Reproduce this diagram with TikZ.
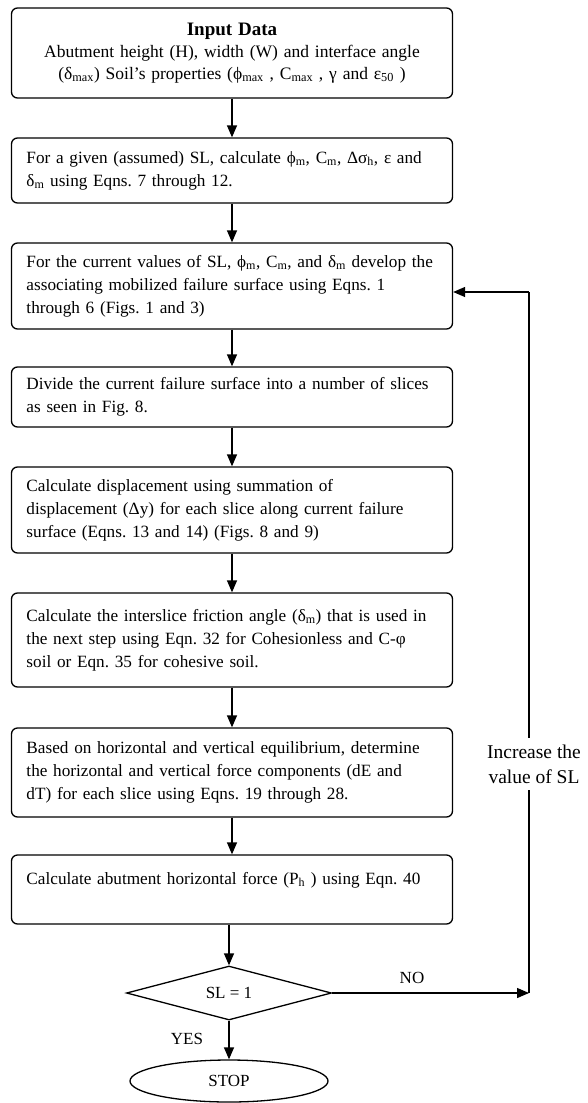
\documentclass[tikz,border=0pt]{standalone}
\usepackage{fontspec}
\setmainfont{Liberation Serif}
\usetikzlibrary{shapes.geometric, arrows.meta}
\frenchspacing

\begin{document}
\begin{tikzpicture}[x=1pt, y=-1pt, line width=1.3pt,
        stepbox/.style={draw, rounded corners=6pt, align=left, text width=411pt, inner xsep=15pt,
            font=\fontsize{17.2}{23}\selectfont},
        flow/.style={-{Triangle[length=12pt, width=10pt]}},
        lbl/.style={font=\fontsize{17}{23}\selectfont}]
        % \draw (0, 0) grid (587, 1103);
        \useasboundingbox (0, 0) rectangle (587, 1103);
        \node[stepbox, align=center, minimum height=90pt, font=\fontsize{17.5}{22}\selectfont, name=input] at (232, 53)
            {{\bfseries\fontsize{19}{22}\selectfont Input Data}\\
            Abutment height (H), width (W) and interface angle\\
            (δ\textsubscript{max}) Soil's properties (ϕ\textsubscript{max} , C\textsubscript{max} , γ and ε\textsubscript{50} )};
        \node[stepbox, minimum height=65pt, name=assume] at (232, 170.5)
            {For a given (assumed) SL, calculate ϕ\textsubscript{m}, C\textsubscript{m}, Δσ\textsubscript{h}, ε and\\
            δ\textsubscript{m} using Eqns. 7 through 12.};
        \node[stepbox, minimum height=86pt, name=surface] at (232, 286)
            {For the current values of SL, ϕ\textsubscript{m}, C\textsubscript{m}, and δ\textsubscript{m} develop the\\
            associating mobilized failure surface using Eqns. 1\\
            through 6 (Figs. 1 and 3)};
        \node[stepbox, minimum height=60pt, name=slices] at (232, 397)
            {Divide the current failure surface into a number of slices\\
            as seen in Fig. 8.};
        \node[stepbox, minimum height=86pt, name=displace] at (232, 510)
            {Calculate displacement using summation of\\
            displacement (Δy) for each slice along current failure\\
            surface (Eqns. 13 and 14) (Figs. 8 and 9)};
        \node[stepbox, minimum height=94pt, name=friction] at (232, 640)
            {Calculate the interslice friction angle (δ\textsubscript{m}) that is used in\\
            the next step using Eqn. 32 for Cohesionless and C-φ\\
            soil or Eqn. 35 for cohesive soil.};
        \node[stepbox, minimum height=89pt, name=equil] at (232, 772.5)
            {Based on horizontal and vertical equilibrium, determine\\
            the horizontal and vertical force components (dE and\\
            dT) for each slice using Eqns. 19 through 28.};
        \node[stepbox, minimum height=69pt, name=force] at (232, 889.5)
            {Calculate abutment horizontal force (P\textsubscript{h} ) using Eqn. 40\\ \mbox{}};
        \node[draw, diamond, aspect=3.8, minimum width=205pt, minimum height=54pt, inner sep=0pt, lbl, name=check] at (229, 993) {SL = 1};
        \node[draw, ellipse, minimum width=198pt, minimum height=42pt, inner sep=0pt, lbl, name=stop] at (229, 1081) {STOP};
        \node[lbl, name=no] at (412, 978) {NO};
        \node[lbl, name=yes] at (187, 1039) {YES};
        \node[align=center, inner ysep=6pt, font=\fontsize{19.5}{25}\selectfont, name=increase] at (534, 764)
            {Increase the\\ value of SL};
        \coordinate (corner) at (529, 993);
        \coordinate (back) at (529, 292);
        \draw[flow] (input) -- (assume);
        \draw[flow] (assume) -- (surface);
        \draw[flow] (surface) -- (slices);
        \draw[flow] (slices) -- (displace);
        \draw[flow] (displace) -- (friction);
        \draw[flow] (friction) -- (equil);
        \draw[flow] (equil) -- (force);
        \draw[flow] (force.south -| check.north) -- (check.north);
        \draw[flow] (check.south) -- (stop.north);
        \draw[flow] (check.east) -- (corner);
        \draw (corner) -- (corner |- increase.south);
        \draw (corner |- increase.north) -- (back);
        \draw[flow] (back) -- (back -| surface.east);
    \end{tikzpicture}
\end{document}
